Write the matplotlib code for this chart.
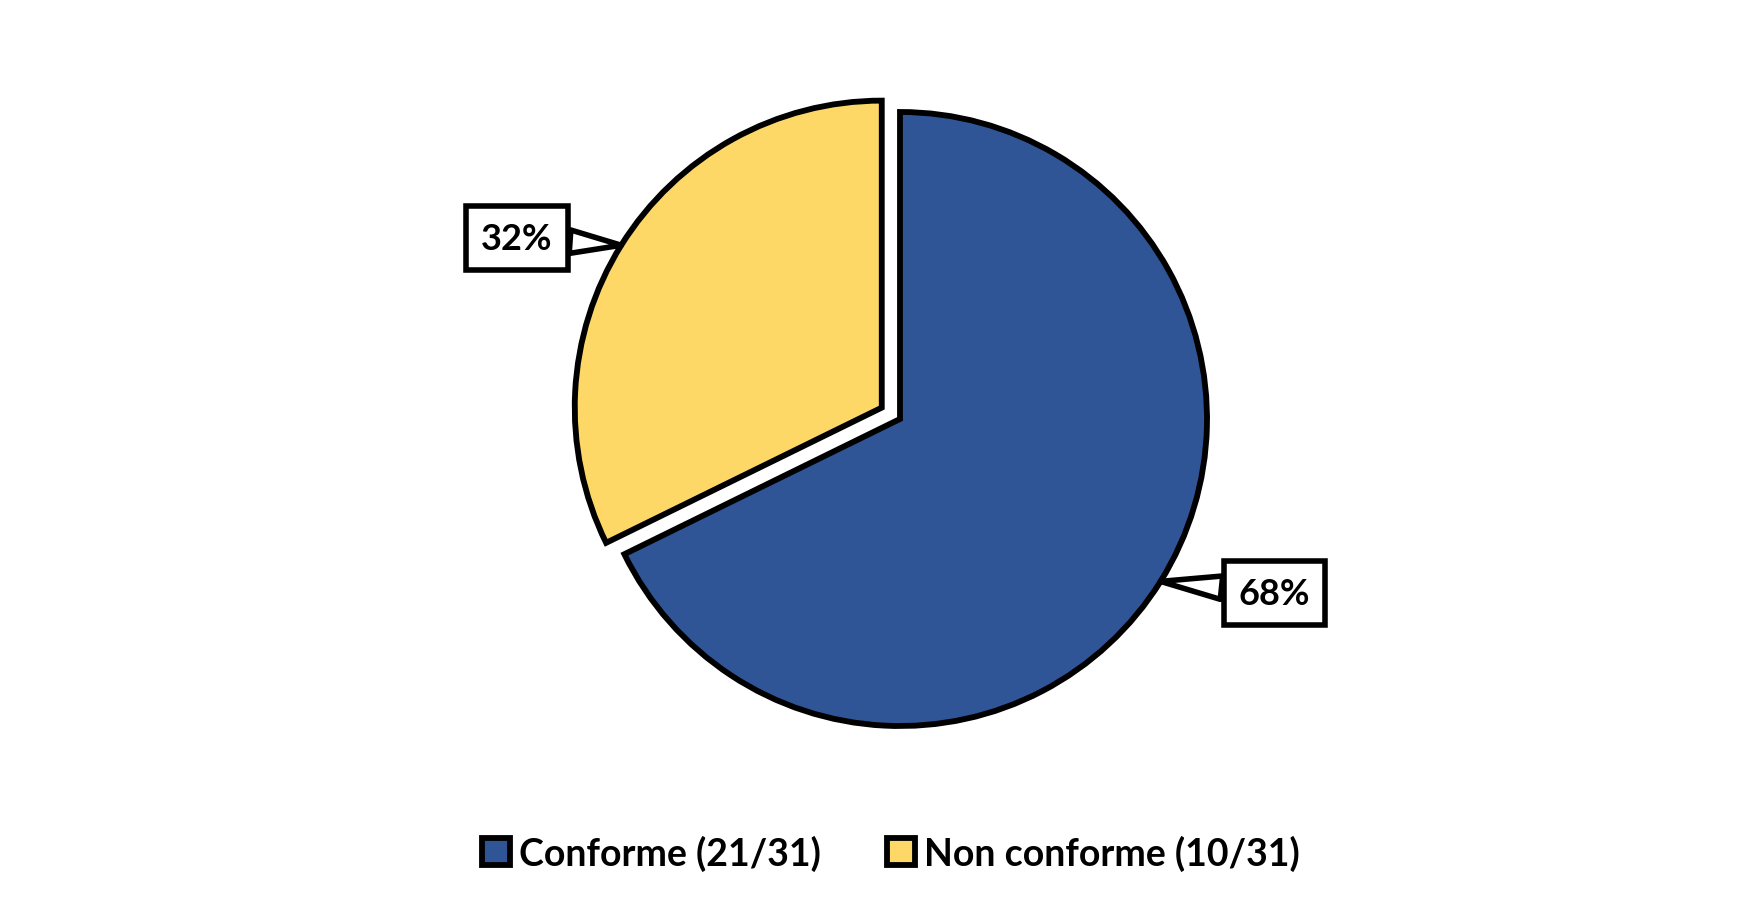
import numpy as np
import matplotlib
matplotlib.use('Agg')
import matplotlib.pyplot as plt

# data
categories = ['Conforme', 'Non conforme']
counts = [21, 10]
total = 31
colors = ['#2F5597', '#FDD867']

plt.rcParams['font.family'] = ['Lato', 'DejaVu Sans']
plt.rcParams['font.weight'] = 'bold'

fig = plt.figure(figsize=(17.63, 9.2), dpi=100)
W, H = 1763, 920
R = 307  # pie radius in pixels
cx, cy = 900, 500  # pie centre (pixels from bottom-left)
aw, ah = 1200, 840
ax = fig.add_axes([(cx - aw / 2) / W, (cy - ah / 2) / H, aw / W, ah / H])

wedges, _ = ax.pie(counts, colors=colors, startangle=90, counterclock=False,
                   explode=[0, 0.07], radius=1,
                   wedgeprops=dict(edgecolor='black', linewidth=4.2, joinstyle='miter'))

# pie() resets the limits, so set them afterwards
ax.set_xlim(-aw / 2 / R, aw / 2 / R)
ax.set_ylim(-ah / 2 / R, ah / 2 / R)
ax.set_aspect('equal')
ax.axis('off')

# callout labels (distance of box centre from slice centre, in radii)
label_dist = [1.345, 1.31]
for w, n, d in zip(wedges, counts, label_dist):
    mid = np.deg2rad((w.theta1 + w.theta2) / 2)
    x0, y0 = w.center
    tip = (x0 + np.cos(mid), y0 + np.sin(mid))
    ang = mid + np.deg2rad(7)
    txt = (x0 + d * np.cos(ang), y0 + d * np.sin(ang))
    ax.annotate(f'{round(100 * n / total)}%', xy=tip, xytext=txt,
                ha='center', va='center', fontsize=26, fontweight='bold',
                annotation_clip=False,
                bbox=dict(boxstyle='square,pad=0.42', fc='white', ec='black', lw=4),
                arrowprops=dict(arrowstyle='wedge,tail_width=0.65,shrink_factor=0.5',
                                fc='white', ec='black', lw=4, shrinkA=0, shrinkB=0))

labels = [f'{c} ({n}/{total})' for c, n in zip(categories, counts)]
leg = fig.legend(wedges, labels, loc='center', bbox_to_anchor=(891 / W, 0.072),
                 ncol=2, frameon=False, handlelength=0.75,
                 handleheight=0.75, handletextpad=0.25, columnspacing=1.75,
                 prop=dict(weight='bold', size=27))

fig.savefig('out.png', dpi=100, facecolor='white')
